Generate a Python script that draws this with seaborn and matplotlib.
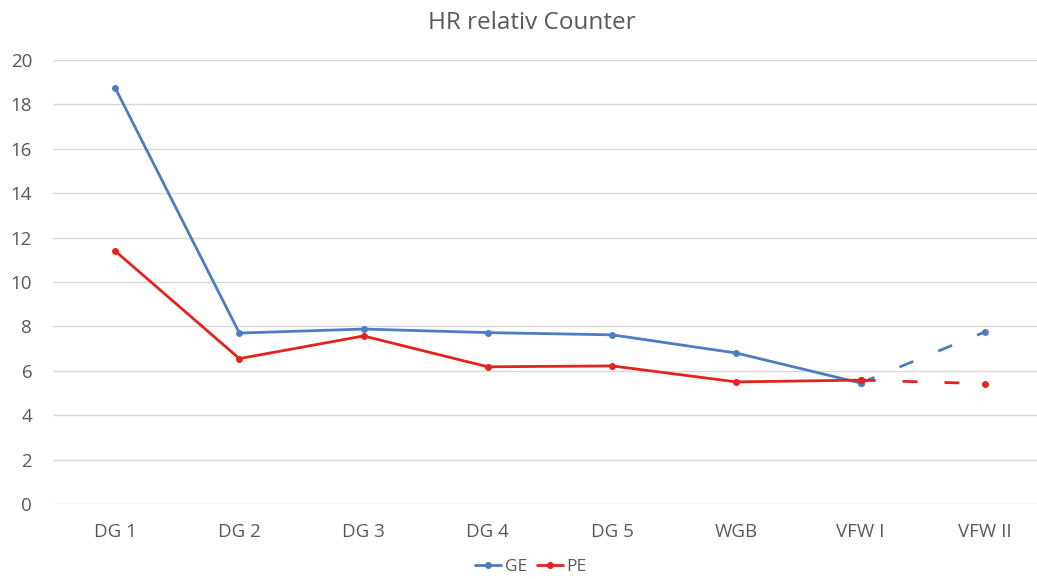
import matplotlib
matplotlib.use("Agg")
import matplotlib.pyplot as plt
import seaborn as sns
import pandas as pd
from matplotlib.lines import Line2D

categories = ["DG 1", "DG 2", "DG 3", "DG 4", "DG 5", "WGB", "VFW I", "VFW II"]
ge_values = [18.75, 7.7, 7.88, 7.72, 7.62, 6.8, 5.45, 7.75]
pe_values = [11.4, 6.55, 7.57, 6.18, 6.22, 5.5, 5.58, 5.42]

blue = "#4F7BC0"
red = "#E3231C"
text_col = "#595959"
grid_col = "#D9D9D9"

sns.set_theme(style="white")
plt.rcParams["font.family"] = ["Open Sans", "DejaVu Sans"]

fig, ax = plt.subplots(figsize=(10.37, 5.79), dpi=100)
fig.subplots_adjust(left=53 / 1037, right=1047 / 1037, top=1 - 60 / 579,
                    bottom=1 - 504 / 579)

x = list(range(len(categories)))
solid_end = 7  # last category is joined with a dashed segment

for vals, col in [(ge_values, blue), (pe_values, red)]:
    df_solid = pd.DataFrame({"x": x[:solid_end], "y": vals[:solid_end]})
    sns.lineplot(data=df_solid, x="x", y="y", ax=ax, color=col, lw=2.0,
                 marker="o", markersize=5, markeredgewidth=0)
    df_dash = pd.DataFrame({"x": x[solid_end - 1:], "y": vals[solid_end - 1:]})
    sns.lineplot(data=df_dash, x="x", y="y", ax=ax, color=col, lw=2.0,
                 linestyle=(0, (5.4, 9.7)), marker="o", markersize=5,
                 markeredgewidth=0)

ax.set_xlim(-0.5, len(categories) - 0.5)
ax.set_ylim(0, 20)
ax.set_yticks(range(0, 21, 2))
ax.set_xticks(x)
ax.set_xticklabels(categories)
ax.set_xlabel("")
ax.set_ylabel("")
ax.tick_params(axis="both", colors=text_col, labelsize=13.5, length=0)
ax.tick_params(axis="x", pad=14)
ax.tick_params(axis="y", pad=15)
ax.grid(axis="y", color=grid_col, lw=1)
for s in ax.spines.values():
    s.set_visible(False)
ax.set_axisbelow(True)

fig.text(532 / 1037, 1 - 23 / 579, "HR relativ Counter", fontsize=17.5,
         color=text_col, ha="center", va="center")

handles = [Line2D([0], [0], color=blue, lw=2, marker="o", markersize=4),
           Line2D([0], [0], color=red, lw=2, marker="o", markersize=4)]
leg = fig.legend(handles, ["GE", "PE"], loc="center",
                 bbox_to_anchor=(531 / 1037, 1 - 567 / 579), ncol=2,
                 frameon=False, fontsize=12.5, handlelength=1.5,
                 handletextpad=0.2, columnspacing=0.6)
for t in leg.get_texts():
    t.set_color(text_col)

fig.savefig("out.png", dpi=100)
